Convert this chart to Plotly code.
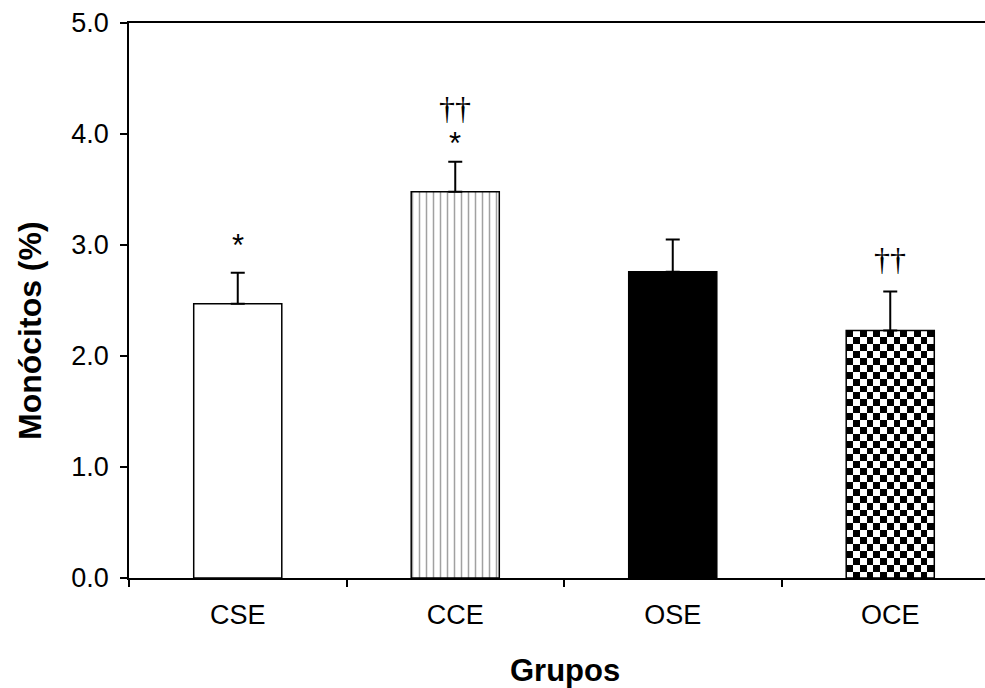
import numpy as np
import plotly.graph_objects as go

categories = ["CSE", "CCE", "OSE", "OCE"]
values = [2.47, 3.48, 2.76, 2.23]
errors = [0.28, 0.27, 0.29, 0.35]
star_marks = ["*", "*", "", ""]
dagger_marks = ["", "††", "", "††"]
mark_y = [3.03, 3.95, None, 2.87]   # centre of the lowest mark above each bar
y_ticks = [0, 1, 2, 3, 4, 5]

W, H = 985, 688
ML, MT, MB = 129, 23, 110
bar_w = 0.405
x_pos = list(range(len(categories)))

fig = go.Figure()

# checkerboard fill for the OCE bar (drawn as a heatmap under the bar outline)
ci = 3
ppu_y = (H - MT - MB) / 5.0
cell_px = 6.8
nrows = max(1, int(round(values[ci] * ppu_y / cell_px)))
ncols = 13
xe = np.linspace(x_pos[ci] - bar_w / 2, x_pos[ci] + bar_w / 2, ncols + 1)
ye = np.linspace(0, values[ci], nrows + 1)
z = [[(i + j) % 2 for j in range(ncols)] for i in range(nrows)]
fig.add_trace(go.Heatmap(x=xe, y=ye, z=z, colorscale=[[0, "white"], [1, "black"]],
                         showscale=False, zsmooth=False, hoverinfo="skip"))

fig.add_trace(go.Bar(
    x=x_pos, y=values, width=bar_w,
    marker=dict(color=["white", "white", "black", "rgba(0,0,0,0)"],
                line=dict(color="black", width=1.5),
                pattern=dict(shape=["", "|", "", ""], fgcolor="black",
                             bgcolor="white", size=7, solidity=0.22)),
    error_y=dict(type="data", symmetric=False, array=errors,
                 arrayminus=[0] * len(errors), color="black", thickness=2, width=7),
    hoverinfo="skip"))

STAR = "<span style='font-size:31px'>{}</span>"
DAG = "<span style='font-family:Liberation Serif;font-size:32px'>{}</span>"

annotations = []
for i in range(len(categories)):
    lines = []
    if dagger_marks[i]:
        lines.append(DAG.format(dagger_marks[i]))
    if star_marks[i]:
        lines.append(STAR.format(star_marks[i]))
    if not lines:
        continue
    shift = -23 if star_marks[i] else -20
    annotations.append(dict(x=x_pos[i], y=mark_y[i], text="<br>".join(lines), showarrow=False,
                            font=dict(family="Liberation Sans", size=27, color="black"),
                            yanchor="bottom", yshift=shift))

PW = W - ML
PH = H - MT - MB
annotations.append(dict(xref="paper", yref="paper", x=(565 - ML) / PW, y=(578 - 670) / PH,
                        text="<b>Grupos</b>", showarrow=False, xanchor="center", yanchor="middle",
                        font=dict(family="Liberation Sans", size=31, color="black")))
annotations.append(dict(xref="paper", yref="paper", x=(30 - ML) / PW, y=(578 - 331) / PH,
                        text="<b>Monócitos (%)</b>", showarrow=False, textangle=-90,
                        xanchor="center", yanchor="middle",
                        font=dict(family="Liberation Sans", size=32, color="black")))

fig.update_layout(
    width=W, height=H,
    margin=dict(l=ML, r=0, t=MT, b=MB),
    paper_bgcolor="white", plot_bgcolor="white",
    showlegend=False,
    annotations=annotations,
    xaxis=dict(range=[-0.5, -0.5 + PW / 217.5], tickmode="array", tickvals=x_pos,
               ticktext=categories, ticks="", showgrid=False, zeroline=False,
               showline=True, linecolor="black", linewidth=1.5, mirror=True,
               tickfont=dict(family="Liberation Sans", size=27, color="black"),
               ticklabelstandoff=12,
               minor=dict(tick0=-0.5, dtick=1, ticks="outside", ticklen=7,
                          tickcolor="black", tickwidth=1.5, showgrid=False)),
    yaxis=dict(range=[0, 5], tickmode="array", tickvals=y_ticks, tickformat=".1f",
               ticks="outside", ticklen=7, tickcolor="black", tickwidth=1.5,
               showgrid=False, zeroline=False, showline=True, linecolor="black",
               linewidth=1.5, ticklabelstandoff=6,
               tickfont=dict(family="Liberation Sans", size=27, color="black")),
)

fig.write_html("out.html")
